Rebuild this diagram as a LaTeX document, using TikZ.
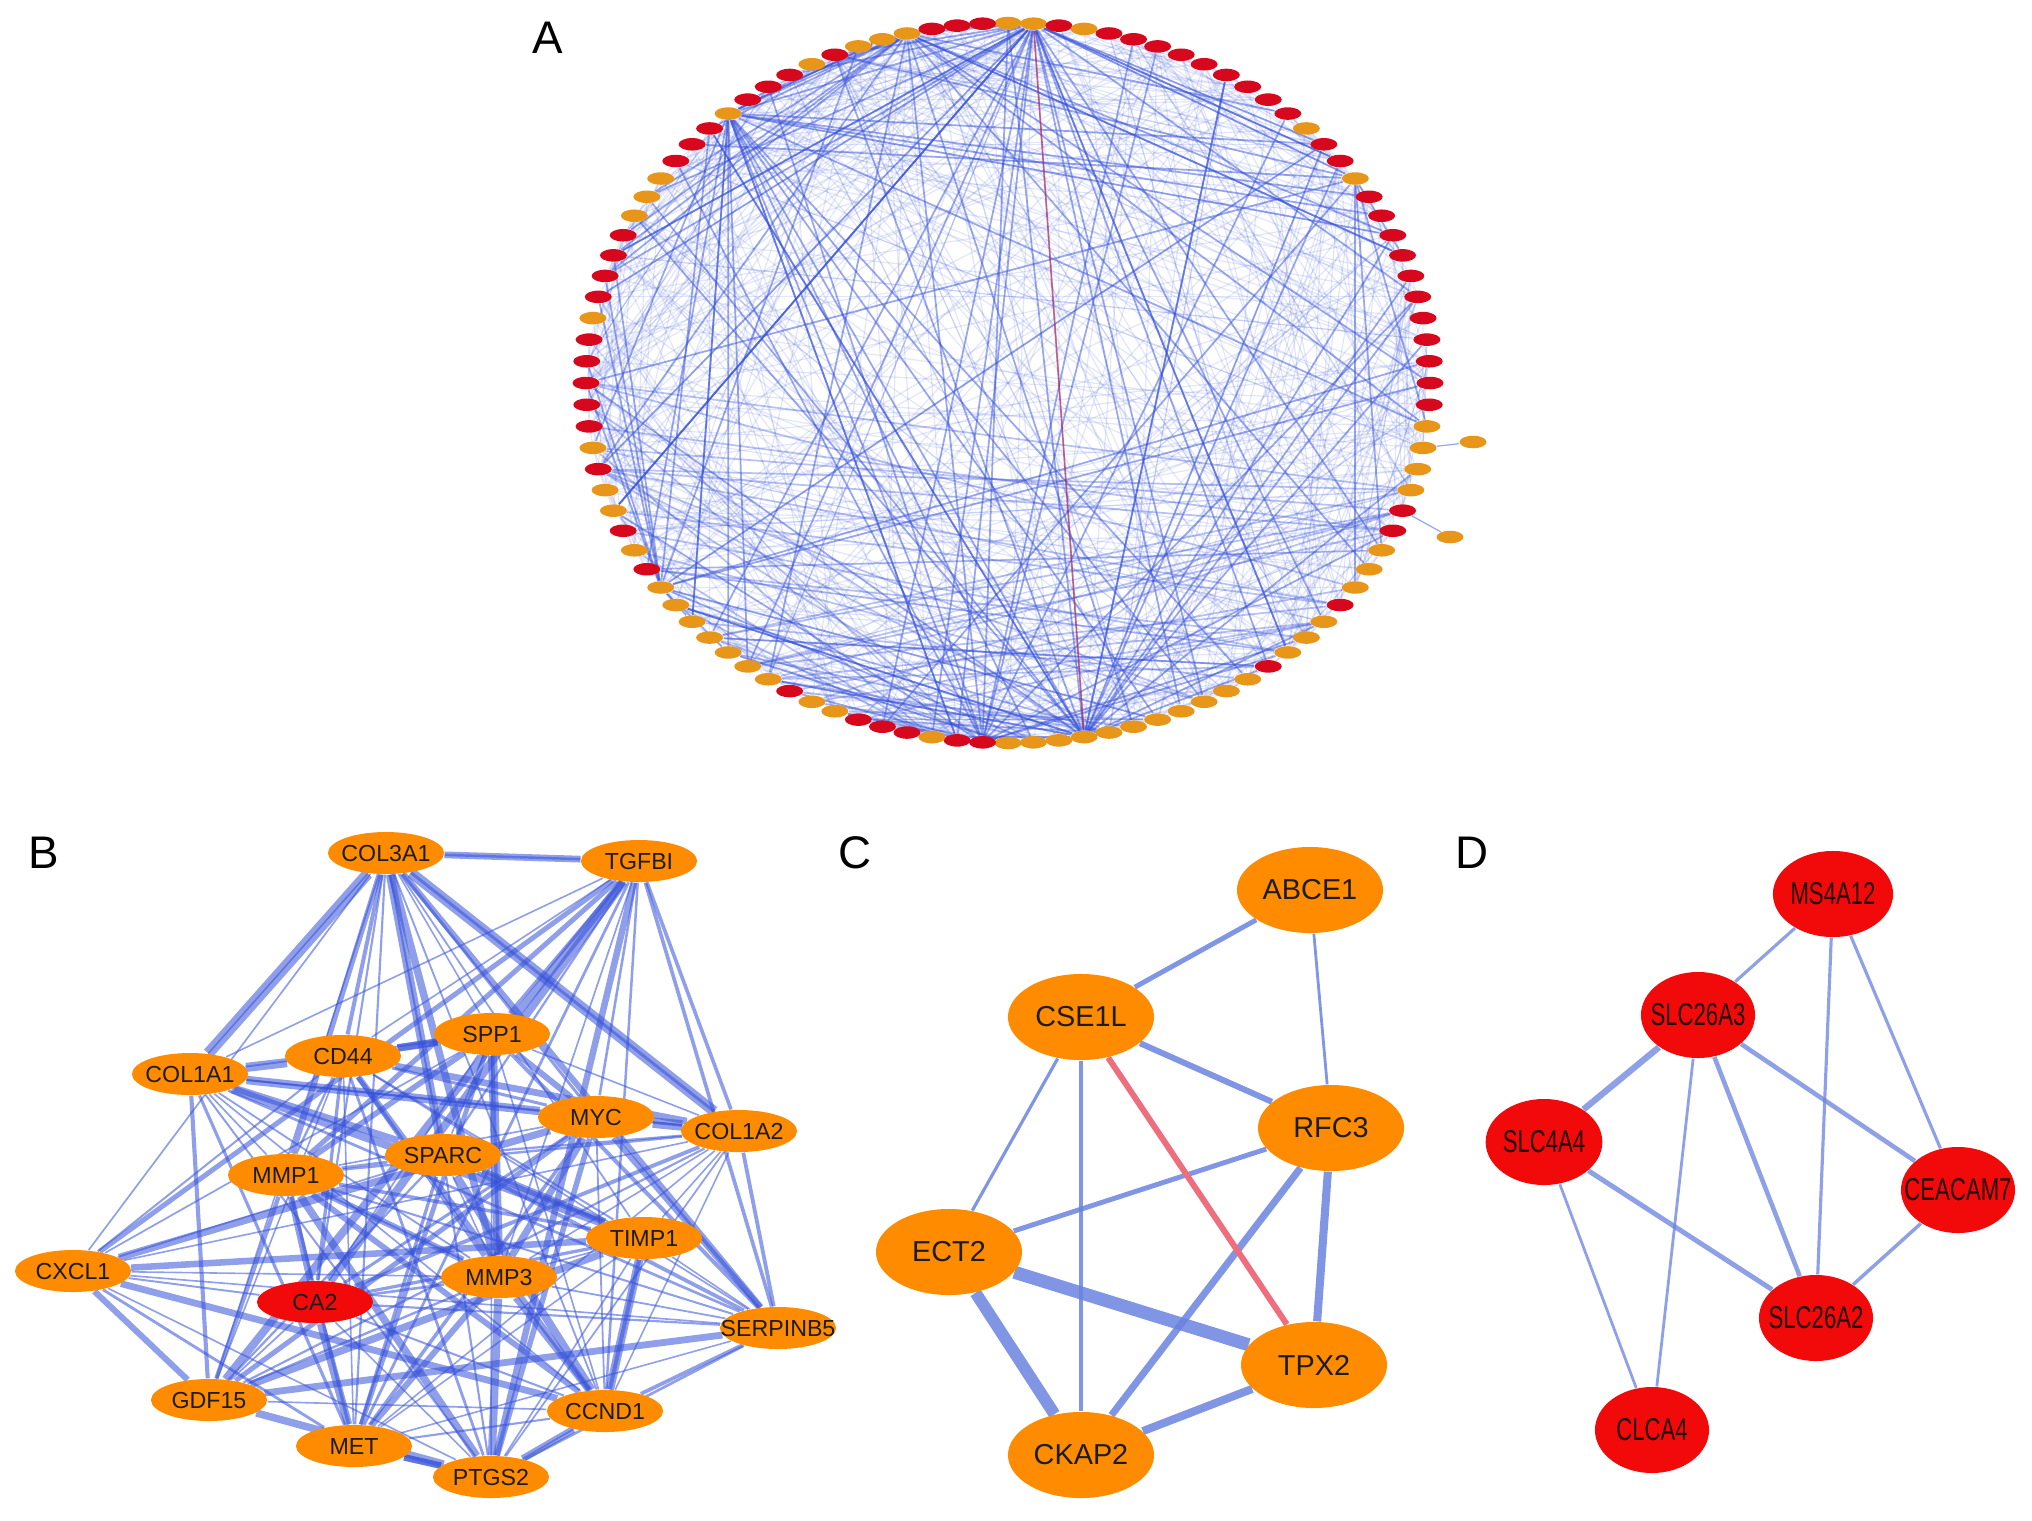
\documentclass[tikz,border=0pt]{standalone}
\usepackage{fontspec}
\setmainfont{Liberation Sans}
\newfontfamily\narrowsans[FakeStretch=0.7]{Liberation Sans}
\usepackage{tikz}
\usetikzlibrary{shapes.geometric, backgrounds}
\definecolor{ppiRed}{HTML}{D7081E}
\definecolor{ppiOrange}{HTML}{E8961A}
\definecolor{hubOrange}{HTML}{FF8C00}
\definecolor{hubRed}{HTML}{F20A0A}
\definecolor{ppiBlue}{HTML}{3550D8}
\definecolor{softBlue}{HTML}{6A82DE}
\definecolor{linkRed}{HTML}{EE6E7E}
\definecolor{labelInk}{HTML}{1C1C1C}
\colorlet{aR}{ppiRed}
\colorlet{aO}{ppiOrange}
\newcommand\bgenes{COL3A1,TGFBI,SPP1,CD44,COL1A1,MYC,COL1A2,SPARC,MMP1,TIMP1,CXCL1,MMP3,CA2,SERPINB5,GDF15,CCND1,MET,PTGS2}

\begin{document}
\begin{tikzpicture}[x=0.01cm, y=-0.01cm,
  panel/.style={font=\fontsize{13}{15}\selectfont, inner sep=0pt},
  tiny/.style={ellipse, minimum width=0.27cm, minimum height=0.125cm, inner sep=0pt},
  bnode/.style={ellipse, fill=hubOrange, minimum width=1.16cm, minimum height=0.42cm,
    inner sep=0pt, text=labelInk, font=\fontsize{6.6}{7}\selectfont},
  cnode/.style={ellipse, fill=hubOrange, minimum width=1.46cm, minimum height=0.86cm,
    inner sep=0pt, text=labelInk, font=\fontsize{8.2}{9}\selectfont},
  dnode/.style={ellipse, fill=hubRed, minimum width=1.14cm, minimum height=0.86cm,
    inner sep=0pt, text=black!85!red, font={\narrowsans\fontsize{9}{10}\selectfont}},
  faint/.style={draw=ppiBlue, draw opacity=0.14, line width=0.35pt},
  strong/.style={draw=ppiBlue, draw opacity=0.5, line width=0.5pt},
  bedge/.style={draw=ppiBlue, draw opacity=0.55},
  cedge/.style={draw=softBlue, draw opacity=0.85},
]
\useasboundingbox (0,0) rectangle (2032,1520);

% panel letters
\node[panel] (labA) at (548,38) {A};
\node[panel] (labB) at (44,853) {B};
\node[panel] (labC) at (855,853) {C};
\node[panel] (labD) at (1472,853) {D};

% A: circular layout
\foreach \c [count=\k from 0] in {O,O,R,O,R,R,R,R,R,R,R,R,R,O,R,R,O,R,R,R,R,R,R,R,R,R,
  R,R,O,O,O,O,R,R,O,O,O,R,O,O,O,R,O,O,O,O,O,O,O,O,O,O,O,R,R,O,R,R,R,O,O,R,
  O,O,O,O,O,O,O,R,O,R,O,O,R,O,R,R,R,R,R,O,R,R,R,R,O,O,O,R,R,R,O,R,R,R,O,R,O,O,O,R,R,R}{
  \pgfmathsetmacro{\t}{90-\k*(360/104)}
  \node[tiny, fill=a\c] (a\k) at ({1008+422*cos(\t)},{383-360*sin(\t)}) {};
}
\node[tiny, fill=aO] (x1) at (1473,442) {};
\node[tiny, fill=aO] (x2) at (1450,537) {};

\begin{pgfonlayer}{background}
  \pgfmathsetseed{11}
  \foreach \n in {1,...,520}{
    \pgfmathrandominteger{\p}{0}{103}
    \pgfmathrandominteger{\q}{0}{103}
    \ifnum\p=\q\else \draw[faint] (a\p) -- (a\q); \fi
  }
  % hubs
  \foreach \h/\m in {1/30, 100/20, 92/22, 49/24, 53/16, 16/9, 68/14}{
    \foreach \n in {1,...,\m}{
      \pgfmathrandominteger{\q}{0}{103}
      \ifnum\h=\q\else \draw[strong] (a\h) -- (a\q); \fi
    }
  }
  % dense lower arc
  \foreach \n in {1,...,50}{
    \pgfmathrandominteger{\p}{58}{78}
    \pgfmathrandominteger{\q}{30}{56}
    \draw[strong, draw opacity=0.35] (a\p) -- (a\q);
  }
  \draw[draw=red, draw opacity=0.45, line width=0.4pt] (a1) -- (a49);
  \draw[faint, draw opacity=0.5] (a29) -- (x1);
  \draw[faint, draw opacity=0.5] (a32) -- (x2);
\end{pgfonlayer}

% B: module 1
\foreach \nm/\x/\y in {COL3A1/386/853, TGFBI/639/861, SPP1/492/1034, CD44/343/1056,
  COL1A1/190/1074, MYC/596/1117, COL1A2/739/1131, SPARC/443/1155, MMP1/286/1175,
  TIMP1/644/1238, CXCL1/73/1271, MMP3/499/1277, SERPINB5/778/1328,
  GDF15/209/1400, CCND1/605/1411, MET/354/1446, PTGS2/491/1477}
  \node[bnode] (\nm) at (\x,\y) {\makebox[0pt]{\nm}};
\node[bnode, fill=hubRed] (CA2) at (315,1302) {\makebox[0pt]{CA2}};

\begin{pgfonlayer}{background}
  \pgfmathsetseed{5}
  \foreach \u [count=\i] in \bgenes {
    \foreach \v [count=\j] in \bgenes {
      \ifnum\j>\i
        \pgfmathsetmacro{\r}{rnd}
        \pgfmathsetmacro{\w}{0.45+1.9*rnd^3}
        \ifdim\r pt<0.86pt \draw[bedge, line width=\w pt] (\u) -- (\v); \fi
      \fi
    }
  }
  \foreach \u/\v/\w in {COL3A1/COL1A1/3.2, COL3A1/COL1A2/3, COL3A1/SPARC/2.4,
    COL1A1/CD44/2.6, COL1A1/MYC/2.4, MYC/COL1A2/3, SPP1/MMP3/2.6, CD44/SPP1/2.2,
    TIMP1/CCND1/2.4, SPARC/TIMP1/2, COL1A1/SPARC/2, MMP1/MMP3/1.8, CCND1/PTGS2/2,
    MET/PTGS2/1.8, COL3A1/TGFBI/0.7}
    \draw[bedge, line width=\w pt] (\u) -- (\v);
\end{pgfonlayer}

% C: module 2
\node[cnode] (ABCE1) at (1310,890) {ABCE1};
\node[cnode] (CSE1L) at (1081,1017) {CSE1L};
\node[cnode] (RFC3) at (1331,1128) {RFC3};
\node[cnode] (ECT2) at (949,1252) {ECT2};
\node[cnode] (TPX2) at (1314,1365) {TPX2};
\node[cnode] (CKAP2) at (1081,1455) {CKAP2};

\begin{pgfonlayer}{background}
  \foreach \u/\v/\w in {ABCE1/CSE1L/1.4, ABCE1/RFC3/0.8, CSE1L/RFC3/1.7, CSE1L/ECT2/0.9,
    CSE1L/CKAP2/0.9, RFC3/ECT2/1.4, RFC3/CKAP2/2, RFC3/TPX2/2.3, ECT2/TPX2/3.7,
    ECT2/CKAP2/3.4, CKAP2/TPX2/2.3}
    \draw[cedge, line width=\w pt] (\u) -- (\v);
  \draw[draw=linkRed, line width=1.7pt] (CSE1L) -- (TPX2);
\end{pgfonlayer}

% D: module 3
\node[dnode] (MS4A12) at (1833,894) {MS4A12};
\node[dnode] (SLC26A3) at (1698,1015) {\makebox[0pt]{SLC26A3}};
\node[dnode] (SLC4A4) at (1544,1142) {SLC4A4};
\node[dnode] (CEACAM7) at (1958,1190) {\makebox[0pt]{CEACAM7}};
\node[dnode] (SLC26A2) at (1816,1318) {\makebox[0pt]{SLC26A2}};
\node[dnode] (CLCA4) at (1652,1430) {CLCA4};

\begin{pgfonlayer}{background}
  \foreach \u/\v/\w in {MS4A12/SLC26A3/0.9, MS4A12/SLC26A2/0.9, MS4A12/CEACAM7/0.9,
    SLC26A3/SLC4A4/1.8, SLC26A3/CLCA4/0.8, SLC26A3/SLC26A2/1.3, SLC26A3/CEACAM7/1.3,
    SLC4A4/SLC26A2/1.4, SLC4A4/CLCA4/0.8, CEACAM7/SLC26A2/1}
    \draw[cedge, draw opacity=0.75, line width=\w pt] (\u) -- (\v);
\end{pgfonlayer}
\end{tikzpicture}
\end{document}
